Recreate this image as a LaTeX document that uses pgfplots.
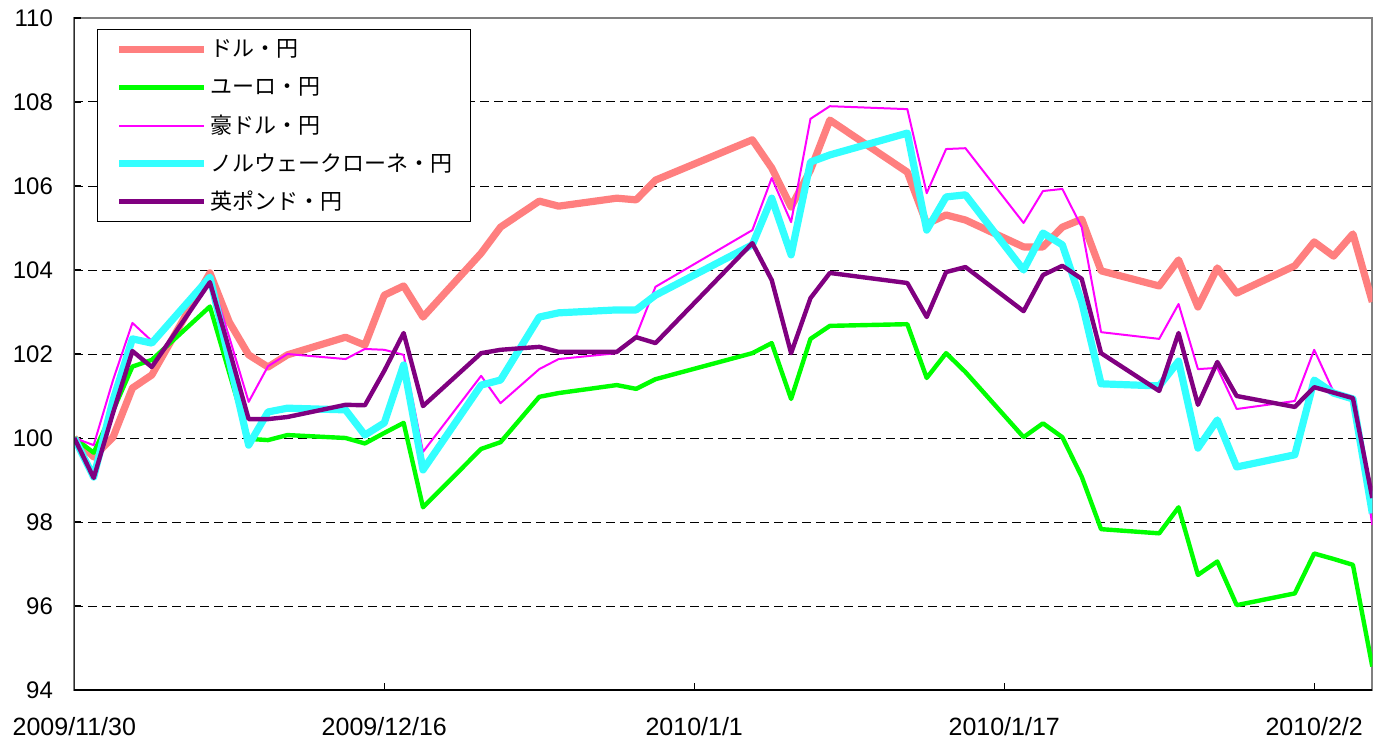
\documentclass[border=0pt]{standalone}
\usepackage{fontspec}
\setmainfont{Liberation Sans}
\newfontfamily\cjk{Noto Sans CJK JP}
\usepackage{pgfplots}
\pgfplotsset{compat=1.18}
\usepackage{pgfplotstable}

\definecolor{cusd}{HTML}{FF7F7F}
\definecolor{ceur}{HTML}{00FF00}
\definecolor{caud}{HTML}{FF00FF}
\definecolor{cnok}{HTML}{33FFFF}
\definecolor{cgbp}{HTML}{800080}

\pgfplotstableread{
d usd eur aud nok gbp
0 100.00 100.00 100.00 100.00 100.00
1 99.55 99.65 99.83 99.07 99.05
2 100.02 100.65 101.38 100.90 100.60
3 101.19 101.70 102.74 102.36 102.07
4 101.50 101.86 102.31 102.26 101.69
7 103.93 103.13 103.88 103.83 103.71
8 102.76 101.55 102.40 101.85 102.10
9 101.98 99.98 100.86 99.83 100.45
10 101.69 99.95 101.71 100.62 100.45
11 101.98 100.07 102.00 100.71 100.50
14 102.40 100.00 101.88 100.67 100.79
15 102.21 99.87 102.12 100.07 100.78
16 103.40 100.12 102.10 100.36 101.60
17 103.62 100.36 101.98 101.74 102.50
18 102.88 98.35 99.67 99.24 100.76
21 104.40 99.74 101.48 101.26 102.02
22 105.02 99.90 100.83 101.38 102.10
24 105.64 100.98 101.64 102.88 102.17
25 105.52 101.07 101.88 102.98 102.05
28 105.71 101.26 102.02 103.05 102.05
29 105.67 101.17 102.43 103.05 102.40
30 106.14 101.40 103.60 103.40 102.26
35 107.10 102.02 104.95 104.60 104.64
36 106.43 102.26 106.19 105.71 103.76
37 105.50 100.93 105.14 104.36 102.02
38 106.38 102.36 107.60 106.57 103.33
39 107.57 102.67 107.90 106.74 103.93
43 106.33 102.71 107.83 107.26 103.69
44 105.10 101.43 105.83 104.95 102.88
45 105.31 102.02 106.88 105.74 103.95
46 105.19 101.57 106.90 105.79 104.07
49 104.55 100.02 105.12 104.00 103.02
50 104.55 100.35 105.88 104.88 103.88
51 105.02 100.02 105.93 104.60 104.10
52 105.21 99.08 105.02 103.24 103.79
53 103.98 97.83 102.52 101.29 102.02
56 103.62 97.73 102.36 101.24 101.12
57 104.24 98.35 103.19 101.83 102.50
58 103.12 96.74 101.64 99.76 100.79
59 104.05 97.06 101.67 100.43 101.81
60 103.45 96.02 100.69 99.31 101.00
63 104.10 96.30 100.88 99.60 100.74
64 104.67 97.25 102.10 101.38 101.21
65 104.33 97.12 101.10 101.07 101.08
66 104.86 96.98 100.95 100.93 100.95
67 103.24 94.56 97.93 98.21 98.57
}\data

\begin{document}
\begin{tikzpicture}
\begin{axis}[
  scale only axis, width=649pt, height=336pt,
  xmin=0, xmax=67, ymin=94, ymax=110,
  xtick={0,16,32,48,64},
  xticklabels={2009/11/30,2009/12/16,2010/1/1,2010/1/17,2010/2/2},
  ytick={96,98,...,108},
  extra y ticks={94,110},
  extra y tick style={grid=none},
  ymajorgrids,
  grid style={black, dash pattern=on 4.5pt off 2.5pt, line width=0.5pt},
  tick pos=left, tick align=inside, major tick length=3.5pt,
  tick style={black, line width=0.6pt},
  axis line style={draw=gray, line width=1pt},
  /pgf/number format/assume math mode=true,
  ticklabel style={font=\fontsize{12}{14}\selectfont},
  yticklabel style={inner sep=0pt, xshift=-10.5pt},
  xticklabel style={inner sep=0pt, anchor=north, yshift=-13.5pt, font=\fontsize{12.5}{14}\selectfont},
  legend style={
    at={(0.0175,0.9836)}, anchor=north west,
    draw=black, line width=0.6pt,
    inner xsep=9pt, inner ysep=0.5pt,
    column sep=1.5pt,
    nodes={inner sep=0pt, minimum height=19pt},
    font=\cjk\fontsize{11}{13}\selectfont,
  },
  legend cell align=left,
  legend image code/.code={\draw[#1] (0pt,0pt) -- (42.5pt,0pt);},
]
\addplot[cusd, line width=3.6pt, line join=round] table[x=d, y=usd]{\data};
\addlegendentry{ドル・円}
\addplot[ceur, line width=2.2pt, line join=round] table[x=d, y=eur]{\data};
\addlegendentry{ユーロ・円}
\addplot[caud, line width=1pt, line join=round] table[x=d, y=aud]{\data};
\addlegendentry{豪ドル・円}
\addplot[cnok, line width=3.6pt, line join=round] table[x=d, y=nok]{\data};
\addlegendentry{ノルウェークローネ・円}
\addplot[cgbp, line width=2.2pt, line join=round] table[x=d, y=gbp]{\data};
\addlegendentry{英ポンド・円}
\draw[black, line width=1pt] (rel axis cs:0,1) -- (rel axis cs:0,0) -- (rel axis cs:1,0);
\end{axis}
\pgfresetboundingbox
\path[use as bounding box] (-37.15pt,-25pt) rectangle (652.85pt,345pt);
\end{tikzpicture}
\end{document}
